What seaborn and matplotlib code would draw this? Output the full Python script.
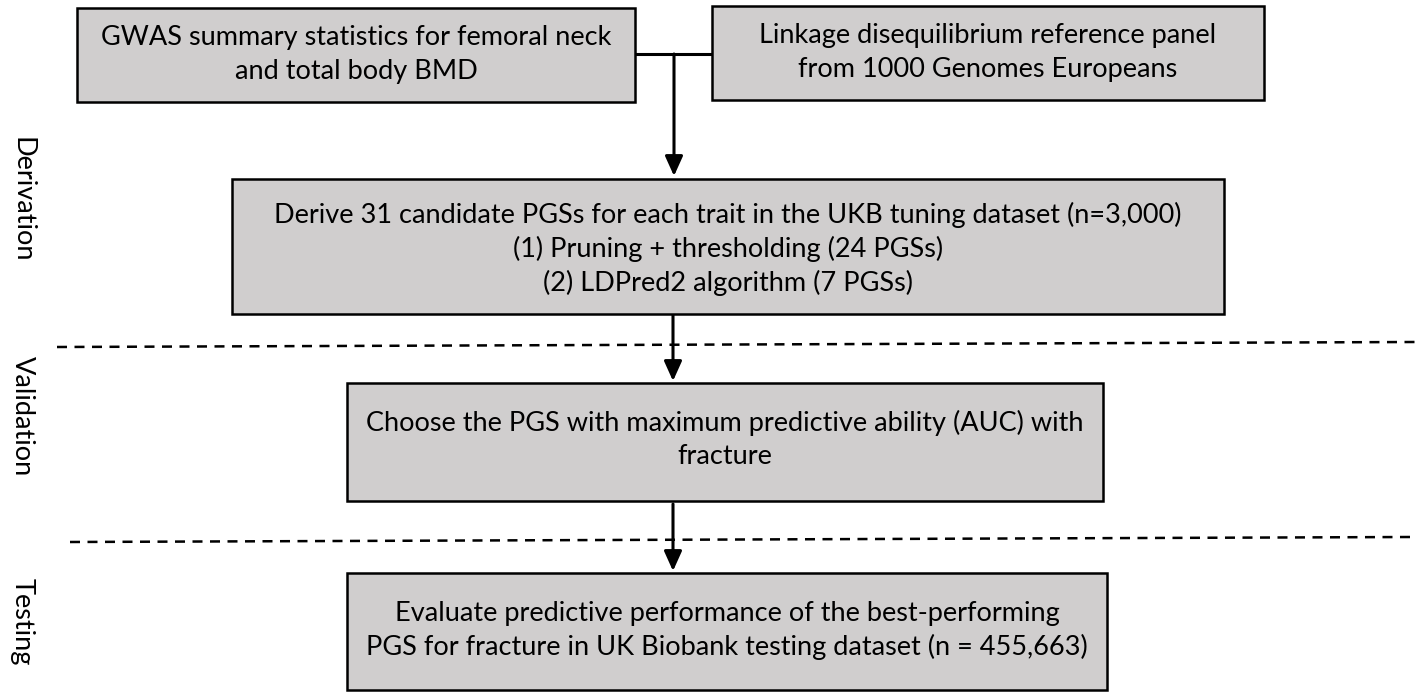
import matplotlib
matplotlib.use("Agg")
import matplotlib.pyplot as plt
import seaborn as sns
from matplotlib.patches import Rectangle

sns.set_theme(style="white")
plt.rcParams['font.family'] = ['Lato', 'DejaVu Sans']

# stage labels down the left side
stages = ["Derivation", "Validation", "Testing"]

# box texts
box_texts = [
    "GWAS summary statistics for femoral neck\nand total body BMD",
    "Linkage disequilibrium reference panel\nfrom 1000 Genomes Europeans",
    "Derive 31 candidate PGSs for each trait in the UKB tuning dataset (n=3,000)\n"
    "(1) Pruning + thresholding (24 PGSs)\n(2) LDPred2 algorithm (7 PGSs)",
    "Choose the PGS with maximum predictive ability (AUC) with\nfracture",
    "Evaluate predictive performance of the best-performing\n"
    "PGS for fracture in UK Biobank testing dataset (n = 455,663)",
]

W, H = 1419, 692
fig = plt.figure(figsize=(W / 100, H / 100), dpi=100)
ax = fig.add_axes([0, 0, 1, 1])
ax.set_xlim(0, W)
ax.set_ylim(H, 0)
ax.axis('off')

FILL = '#d0cece'
FS = 19.5

# layout (pixel coords): x0, y0, x1, y1
boxes = [
    (77, 8, 635, 102),
    (712, 6, 1264, 100),
    (232, 179, 1224, 314),
    (347, 383, 1103, 501),
    (347, 573, 1107, 690),
]
text_tops = [37, 36, 215, 423, 613]
line_gap = 34

for (x0, y0, x1, y1), txt, ty in zip(boxes, box_texts, text_tops):
    ax.add_patch(Rectangle((x0, y0), x1 - x0, y1 - y0, facecolor=FILL,
                           edgecolor='black', linewidth=1.8, zorder=2))
    for i, line in enumerate(txt.split('\n')):
        ax.text((x0 + x1) / 2, ty + i * line_gap, line, ha='center', va='center',
                fontsize=FS, color='black', zorder=3)

# connector between the two top boxes
ax.plot([635, 712], [54, 54], color='black', lw=2.2, zorder=1, solid_capstyle='butt')

arrow_kw = dict(arrowstyle='-|>,head_width=0.45,head_length=1.0', color='black',
                lw=2.2, shrinkA=0, shrinkB=0)
ax.annotate('', xy=(674, 176), xytext=(674, 54), arrowprops=arrow_kw, zorder=1)
ax.annotate('', xy=(673, 381), xytext=(673, 314), arrowprops=arrow_kw, zorder=1)
ax.annotate('', xy=(673, 571), xytext=(673, 504), arrowprops=arrow_kw, zorder=1)

# dashed separators
ax.plot([57, 1415], [347, 342], color='black', lw=1.8, ls=(0, (4, 3)), zorder=0)
ax.plot([70, 1410], [542, 537], color='black', lw=1.8, ls=(0, (4, 3)), zorder=0)

for label, y in zip(stages, [200, 416, 622]):
    ax.text(22, y, label, rotation=-90, ha='center', va='center', fontsize=FS,
            color='black')

fig.savefig('out.png', dpi=100)
